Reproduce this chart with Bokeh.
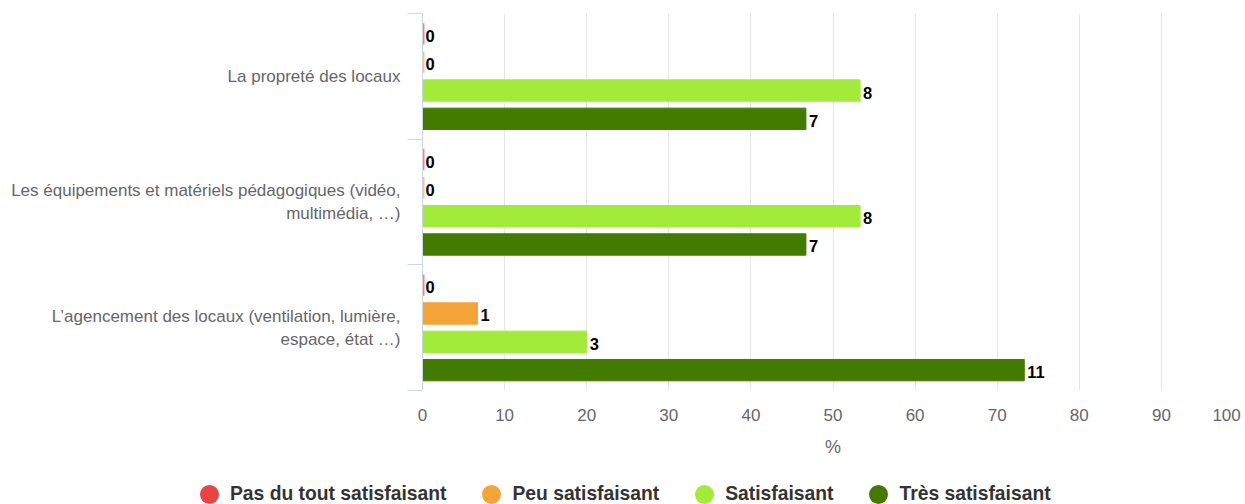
from bokeh.plotting import figure
from bokeh.layouts import column
from bokeh.models import ColumnDataSource, FixedTicker, Div
from bokeh.embed import file_html
from bokeh.resources import INLINE
from bokeh.core.properties import value

# ---- data ----
categories = [
    "La propreté des locaux",
    "Les équipements et matériels pédagogiques (vidéo,\nmultimédia, …)",
    "L’agencement des locaux (ventilation, lumière,\nespace, état …)",
]
series_names = ["Pas du tout satisfaisant", "Peu satisfaisant", "Satisfaisant", "Très satisfaisant"]
series_colors = ["#e94343", "#f5a43a", "#a3eb3a", "#437b00"]

# percentage of answers (bar length), per category
pas_pct = [0.0, 0.0, 0.0]
peu_pct = [0.0, 0.0, 6.7]
sat_pct = [53.3, 53.3, 20.0]
tres_pct = [46.7, 46.7, 73.3]

# number of answers (data labels), per category
pas_n = [0, 0, 0]
peu_n = [0, 0, 1]
sat_n = [8, 8, 3]
tres_n = [7, 7, 11]

x_ticks = [0, 10, 20, 30, 40, 50, 60, 70, 80, 90, 100]

FONT = "Liberation Sans"

pcts = [pas_pct, peu_pct, sat_pct, tres_pct]
counts = [pas_n, peu_n, sat_n, tres_n]
offsets = [0.338, 0.113, -0.113, -0.338]  # series position inside a category band
cat_y = [3, 2, 1]

p = figure(width=1245, height=470, x_range=(0, 100), y_range=(0.5, 3.5),
           output_backend="svg", toolbar_location=None,
           min_border_left=422, min_border_right=2, min_border_top=13, min_border_bottom=80)
p.outline_line_color = None
p.background_fill_color = "white"
p.border_fill_color = "white"

for s in range(4):
    ys = [cat_y[i] + offsets[s] for i in range(3)]
    lw = [4 if v == 0 else 1 for v in pcts[s]]
    la = [0.65 if v == 0 else 1.0 for v in pcts[s]]
    src = ColumnDataSource(dict(y=ys, right=pcts[s], lw=lw, la=la,
                                lab=[str(c) for c in counts[s]]))
    p.hbar(y="y", left=0, right="right", height=0.17, source=src,
           fill_color=series_colors[s], line_color=series_colors[s],
           line_width="lw", line_alpha="la")
    p.text(x="right", y="y", text="lab", source=src, x_offset=3, y_offset=2,
           text_baseline="middle", text_align="left",
           text_font=value(FONT), text_font_style="bold",
           text_font_size="16.5px", text_color="#000000")

# grid
p.ygrid.grid_line_color = None
p.xgrid.grid_line_color = "#e6e6e6"
p.xgrid.grid_line_width = 1
p.xgrid.ticker = FixedTicker(ticks=x_ticks)

# x axis
xa = p.xaxis[0]
xa.ticker = FixedTicker(ticks=x_ticks)
xa.axis_line_color = None
xa.major_tick_line_color = None
xa.minor_tick_line_color = None
xa.major_tick_out = 0
xa.major_tick_in = 0
xa.major_label_standoff = 15
xa.major_label_text_font = FONT
xa.major_label_text_font_size = "17px"
xa.major_label_text_color = "#666666"
xa.major_label_overrides = {100: "100\u00a0"}
xa.axis_label = "%"
xa.axis_label_text_font = FONT
xa.axis_label_text_font_style = "normal"
xa.axis_label_text_font_size = "18px"
xa.axis_label_text_color = "#666666"
xa.axis_label_standoff = 9

# y axis
ya = p.yaxis[0]
ya.ticker = FixedTicker(ticks=cat_y, minor_ticks=[0.5, 1.5, 2.5, 3.5])
ya.major_label_overrides = {cat_y[i]: categories[i] for i in range(3)}
ya.axis_line_color = "#ccd6eb"
ya.major_tick_line_color = None
ya.major_tick_out = 0
ya.major_tick_in = 0
ya.minor_tick_line_color = "#ccd6eb"
ya.minor_tick_out = 15
ya.minor_tick_in = 0
ya.major_label_standoff = 7
ya.major_label_text_font = FONT
ya.major_label_text_font_size = "17px"
ya.major_label_text_color = "#666666"
ya.major_label_text_line_height = 1.2

# ---- legend (HTML text under the chart) ----
legend_parts = []
for name, col in zip(series_names, series_colors):
    legend_parts.append(
        '<span style="display:inline-block;width:19px;height:19px;border-radius:50%;'
        f'background:{col};margin-right:11px;flex:none;"></span>'
        f'<span style="margin-right:36px;flex:none;">{name}</span>'
    )
legend_html = (
    '<div style="display:flex;align-items:center;height:34px;box-sizing:border-box;'
    'padding-top:14px;padding-left:200px;font-family:\'Liberation Sans\',Arial,sans-serif;'
    'font-weight:bold;font-size:19.3px;line-height:20px;color:#333333;white-space:nowrap;">'
    + "".join(legend_parts) + '</div>'
)
legend_div = Div(text=legend_html, width=1245, height=34, margin=(0, 0, 0, 0))

layout = column(p, legend_div, spacing=0)
open("out.html", "w").write(file_html(layout, INLINE))
